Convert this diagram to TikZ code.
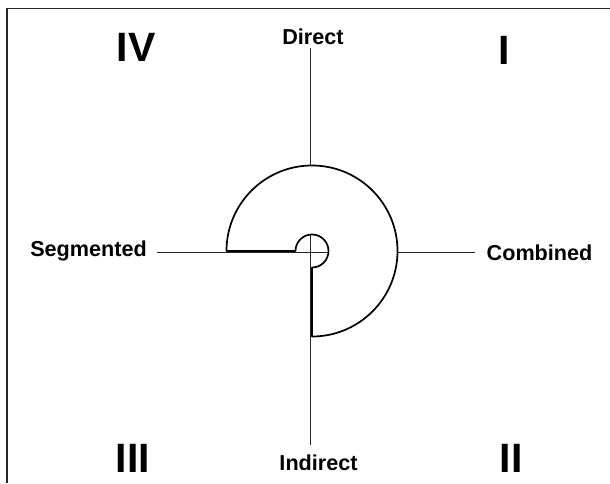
\documentclass[tikz,border=0pt]{standalone}
\usepackage{fontspec}
\setmainfont{Liberation Sans}
\begin{document}
\begin{tikzpicture}[x=1pt,y=1pt,
  lbl/.style={font=\fontsize{21.6}{25}\selectfont\bfseries, anchor=base, inner sep=0pt},
  quad/.style={font=\fontsize{41}{48}\selectfont\bfseries, anchor=base, inner sep=0pt},
  axis/.style={line width=0.8pt, draw=black!85},
  spiral/.style={line width=1.7pt, draw=black, fill=white, line join=round}]
\useasboundingbox (0,0) rectangle (610,483);
% frame (top and left only)
\draw[line width=1.8pt, draw=black!85] (7,0) -- (7,474.5) -- (610,474.5);
% labels
\node[lbl] (direct) at (313,438) {Direct};
\node[lbl] (indirect) at (318.5,13) {Indirect};
\node[lbl] (segmented) at (88.5,226.5) {Segmented};
\node[lbl] (combined) at (539.5,223) {Combined};
\node[quad] (q4) at (136,421) {IV};
\node[quad] (q1) at (504,418) {I};
\node[quad] (q3) at (133,11) {III};
\node[quad] (q2) at (511,11) {II};
% axes
\coordinate (vtop) at (310.5,435);
\coordinate (vbot) at (310.5,38);
\coordinate (hleft) at (157,231);
\coordinate (hright) at (475,231);
\draw[axis] (vtop) -- (vbot);
\draw[axis] (hleft) -- (hright);
% spiral
\coordinate (c) at (312,232);
\draw[spiral] (226.5,232) arc[start angle=180, end angle=-90, radius=85.5pt]
  -- (312,215.5) arc[start angle=-90, end angle=180, radius=16.5pt] -- cycle;
\end{tikzpicture}
\end{document}
